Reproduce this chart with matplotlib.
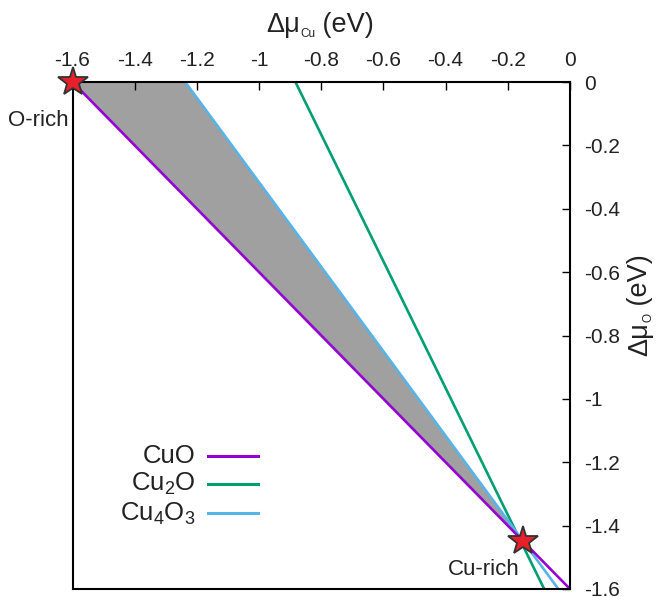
import numpy as np
import matplotlib
matplotlib.use("Agg")
import matplotlib.pyplot as plt

plt.rcParams['font.family'] = ['Liberation Sans', 'DejaVu Sans']
plt.rcParams['mathtext.fontset'] = 'custom'
plt.rcParams['mathtext.rm'] = 'Liberation Sans'
plt.rcParams['mathtext.it'] = 'Liberation Sans'

phases = ["CuO", "Cu$_2$O", "Cu$_4$O$_3$"]
n_cu = [1, 2, 4]
m_o = [1, 1, 3]
dH = [-1.6, -1.766, -4.95]
colors = ["#9400D3", "#009E73", "#56B4E9"]

xticks = [-1.6, -1.4, -1.2, -1.0, -0.8, -0.6, -0.4, -0.2, 0.0]
yticks = [0.0, -0.2, -0.4, -0.6, -0.8, -1.0, -1.2, -1.4, -1.6]
ticklabels_x = ["-1.6", "-1.4", "-1.2", "-1", "-0.8", "-0.6", "-0.4", "-0.2", "0"]
ticklabels_y = ["0", "-0.2", "-0.4", "-0.6", "-0.8", "-1", "-1.2", "-1.4", "-1.6"]

W, H = 656, 597
fig = plt.figure(figsize=(W/100, H/100), dpi=100)
ax = fig.add_axes([72.5/W, 1-589/H, (570-72.5)/W, (589-82)/H])
ax.set_xlim(-1.6, 0)
ax.set_ylim(-1.6, 0)

muO = np.array([0.0, -1.6])
lines = [(h - m*muO)/n for n, m, h in zip(n_cu, m_o, dH)]

# shaded region between CuO and Cu4O3
A = np.array([[n_cu[0], m_o[0]], [n_cu[2], m_o[2]]], dtype=float)
b = np.array([dH[0], dH[2]])
xi, yi = np.linalg.solve(A, b)
poly_x = [dH[0]/n_cu[0], dH[2]/n_cu[2], xi]
poly_y = [0.0, 0.0, yi]
ax.fill(poly_x, poly_y, color="#A0A0A0", zorder=1, lw=0)

for idx in [1, 2, 0]:
    ax.plot(lines[idx], muO, color=colors[idx], lw=1.9, zorder=2)

# stars
for sx, sy in [(dH[0]/n_cu[0], 0.0), (xi, yi)]:
    ax.plot([sx], [sy], marker='*', ms=22, mfc='#E8202A', mec='#333333', mew=1.3,
            clip_on=False, zorder=5)

ax.text(-1.612, -0.12, "O-rich", ha='right', va='center', fontsize=16, color='#222222')
ax.text(-0.277, -1.537, "Cu-rich", ha='center', va='center', fontsize=16, color='#222222')

# legend (gnuplot style: right aligned text, sample line to the right)
leg_y = [0.263, 0.208, 0.149]
for i, (ph, c) in enumerate(zip(phases, colors)):
    ax.text(0.248, leg_y[i], ph, transform=ax.transAxes, ha='right', va='center',
            fontsize=18.5, color='#222222')
    ax.plot([0.272, 0.372], [leg_y[i], leg_y[i]], transform=ax.transAxes, color=c, lw=2.2)

ax.xaxis.tick_top()
ax.yaxis.tick_right()
ax.set_xticks(xticks)
ax.set_xticklabels(ticklabels_x)
ax.set_yticks(yticks)
ax.set_yticklabels(ticklabels_y)
ax.tick_params(direction='in', length=5.5, width=1, labelsize=15, colors='black',
               labelcolor='#222222')
ax.tick_params(axis='x', pad=9)
ax.tick_params(axis='y', pad=10)
for s in ax.spines.values():
    s.set_linewidth(1.5)

# axis labels with small subscripts, composed from pieces
renderer = fig.canvas.get_renderer()

def compose(parts, cx, cy, vertical=False):
    """parts: list of (text, fontsize, drop_px). cx, cy: center in pixels (from top-left)."""
    objs = []
    widths = []
    for txt, fs, drop in parts:
        t = fig.text(0, 0, txt, fontsize=fs, color='#222222',
                     rotation=90 if vertical else 0,
                     ha='left', va='baseline', rotation_mode='anchor')
        bb = t.get_window_extent(renderer)
        widths.append(bb.height if vertical else bb.width)
        objs.append(t)
    total = sum(widths)
    pos = -total/2
    for t, w, (txt, fs, drop) in zip(objs, widths, parts):
        if vertical:
            x = cx + drop
            y = (H - cy) + pos
        else:
            x = cx + pos
            y = (H - cy) - drop
        t.set_position((x/W, y/H))
        pos += w

compose([("Δμ", 19.5, 0), ("Cu", 8.5, 5), (" (eV)", 19.5, 0)], 320, 32)
compose([("Δμ", 19.5, 0), ("O", 8.5, 5), (" (eV)", 19.5, 0)], 647, 305, vertical=True)

fig.savefig("out.png", dpi=100)
